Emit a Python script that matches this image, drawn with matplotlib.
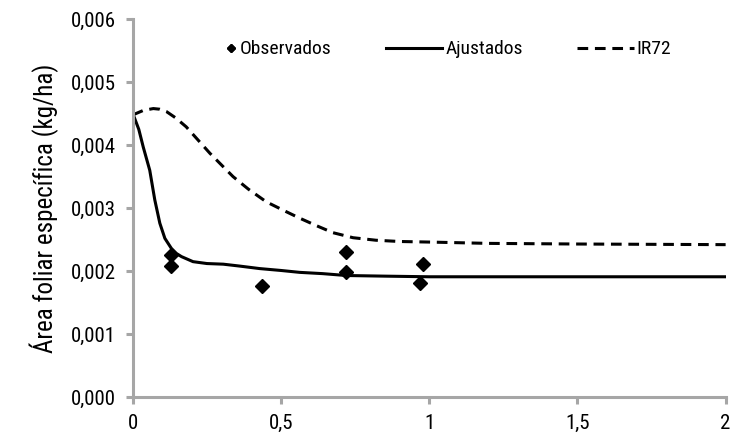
import matplotlib
matplotlib.use("Agg")
import numpy as np
import matplotlib.pyplot as plt
from matplotlib import font_manager
from matplotlib.legend_handler import HandlerLine2D
from matplotlib.ticker import FuncFormatter

# the original uses a narrow face; take the first narrow family that is installed
names = {f.name for f in font_manager.fontManager.ttflist}
narrow = [n for n in ("Roboto Condensed", "Liberation Sans Narrow", "DejaVu Sans Condensed",
                      "Open Sans Condensed", "Noto Sans Condensed") if n in names]
plt.rcParams["font.family"] = (narrow[:1] or ["Roboto"]) + ["DejaVu Sans"]

# observed points
obs_x = [0.13, 0.13, 0.436, 0.718, 0.718, 0.979, 0.970]
obs_y = [0.00225, 0.00208, 0.00177, 0.00230, 0.00199, 0.00212, 0.00181]

# fitted curve (Ajustados)
fit_x = [0.0, 0.02, 0.035, 0.057, 0.074, 0.091, 0.108, 0.13, 0.147, 0.164, 0.203,
         0.25, 0.305, 0.36, 0.428, 0.5, 0.563, 0.64, 0.72, 0.85, 1.0, 1.5, 2.0]
fit_y = [0.00450, 0.00425, 0.00397, 0.00360, 0.00313, 0.00276, 0.00252, 0.00236,
         0.00228, 0.00223, 0.00215, 0.00212, 0.00211, 0.00208, 0.00204, 0.00201,
         0.00198, 0.00196, 0.00193, 0.00192, 0.00191, 0.00191, 0.00191]

# IR72 reference curve
ir_x = [0.0, 0.035, 0.069, 0.09, 0.114, 0.145, 0.18, 0.22, 0.26, 0.3, 0.338, 0.39,
        0.45, 0.51, 0.563, 0.62, 0.675, 0.743, 0.82, 0.9, 1.01, 1.2, 1.5, 2.0]
ir_y = [0.00448, 0.00455, 0.00458, 0.00457, 0.00453, 0.00443, 0.00429, 0.00408,
        0.00387, 0.00368, 0.00350, 0.00330, 0.00310, 0.00296, 0.00284, 0.00272,
        0.00261, 0.00253, 0.00249, 0.00247, 0.00246, 0.00244, 0.00243, 0.00242]


class _MarkerAtEnd(HandlerLine2D):
    """Legend handle with the marker pushed to the right end, next to its text."""

    def get_xdata(self, legend, xdescent, ydescent, width, height, fontsize):
        x = -xdescent + width - 4.0
        return np.array([x, x]), np.array([x, x])


fig = plt.figure(figsize=(7.3, 4.34), dpi=100)
ax = fig.add_axes([0.182, 0.085, 0.812, 0.871])

obs_line, = ax.plot(obs_x, obs_y, "D", color="black", ms=7, label="Observados", zorder=5)
ax.plot(fit_x, fit_y, "-", color="black", lw=2.2, label="Ajustados")
ax.plot(ir_x, ir_y, "--", color="black", lw=2.2, dashes=(3.5, 2.2), label="IR72")

ax.set_xlim(0, 2)
ax.set_ylim(0, 0.006)
ax.set_xticks([0, 0.5, 1, 1.5, 2])
ax.set_yticks([0, 0.001, 0.002, 0.003, 0.004, 0.005, 0.006])
ax.xaxis.set_major_formatter(FuncFormatter(lambda v, p: f"{v:g}".replace(".", ",")))
ax.yaxis.set_major_formatter(FuncFormatter(lambda v, p: f"{v:.3f}".replace(".", ",")))

grey = "#a6a6a6"
for side in ("top", "right"):
    ax.spines[side].set_visible(False)
for side in ("left", "bottom"):
    ax.spines[side].set_color(grey)
    ax.spines[side].set_linewidth(2.2)
ax.tick_params(axis="both", colors=grey, width=2.2, length=5, labelsize=15,
               labelcolor="black")
ax.tick_params(axis="x", pad=7)
ax.tick_params(axis="y", pad=7)
ax.set_ylabel("Área foliar específica (kg/ha)", fontsize=18, labelpad=9)

ax.legend(loc="upper left", bbox_to_anchor=(0.051, 0.99), ncol=3, frameon=False,
          fontsize=14, handlelength=2.9, handletextpad=0.15, columnspacing=2.8,
          markerscale=0.6, handler_map={obs_line: _MarkerAtEnd(numpoints=2)})

fig.savefig("out.png", dpi=100)
